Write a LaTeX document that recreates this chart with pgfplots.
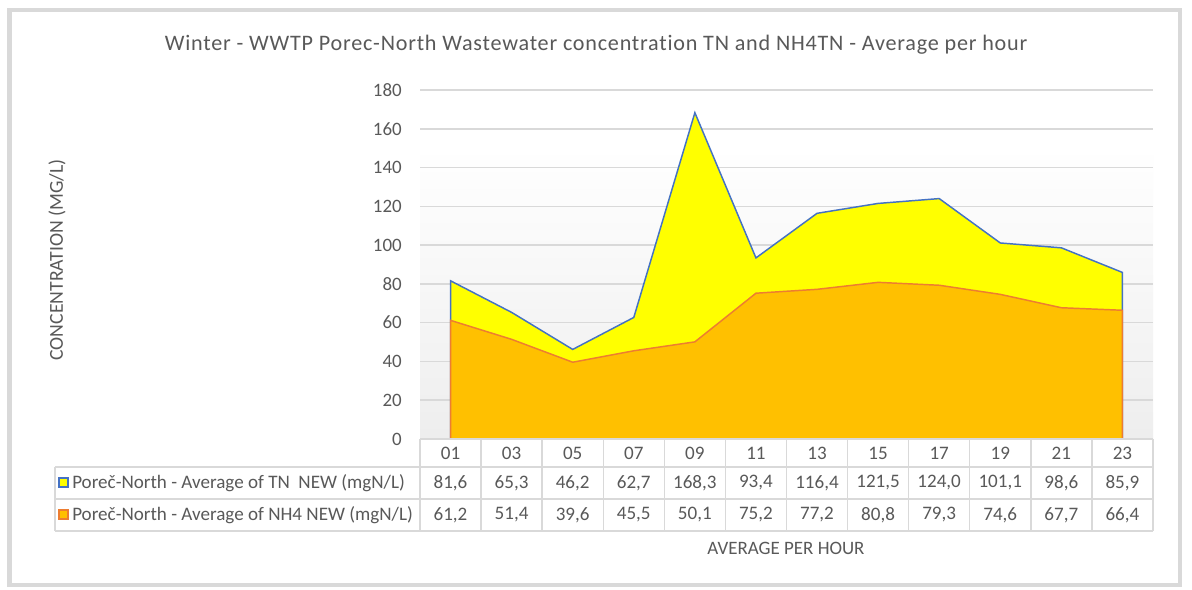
\documentclass[border=0pt]{standalone}
\usepackage{pgfplots}
\pgfplotsset{compat=1.18}
\usepackage{fontspec}
\setmainfont[Ligatures={NoCommon}]{Carlito}
\newfontfamily\titlefont[LetterSpace=3.5, Ligatures={NoCommon,NoRare,NoContextual}]{Carlito}
\definecolor{txt}{HTML}{595959}
\definecolor{gridc}{HTML}{D9D9D9}
\definecolor{tnfill}{HTML}{FFFF00}
\definecolor{tnline}{HTML}{4472C4}
\definecolor{nhfill}{HTML}{FFC000}
\definecolor{nhline}{HTML}{ED7D31}
\pgfdeclareverticalshading{plotbg}{100bp}{color(0bp)=(gridc!45); color(25bp)=(gridc!45); color(67bp)=(white); color(100bp)=(white)}
\pgfplotstableread{
i TN NH4
0 81.6 61.2
1 65.3 51.4
2 46.2 39.6
3 62.7 45.5
4 168.3 50.1
5 93.4 75.2
6 116.4 77.2
7 121.5 80.8
8 124.0 79.3
9 101.1 74.6
10 98.6 67.7
11 85.9 66.4
}\datatable
\begin{document}
\begin{tikzpicture}[x=0.75pt,y=-0.75pt]
\path[use as bounding box, fill=white] (0,0) rectangle (1192,589);
\draw[gridc, line width=3.4pt] (9.5,10) rectangle (1180,585);
\begin{axis}[at={(315pt,-329.25pt)}, anchor=south west, scale only axis,
  width=549.75pt, height=261.75pt,
  xmin=-0.5, xmax=11.5, ymin=0, ymax=180, ytick={0,20,...,180}, xtick=\empty,
  ymajorgrids, grid style={gridc, line width=1.1pt},
  axis line style={draw=none}, major tick length=0pt,
  yticklabel style={font=\fontsize{14.2}{16}\selectfont, text=txt, anchor=east, inner sep=0pt, xshift=-13.5pt},
  /pgf/number format/assume math mode=true,
  axis background/.style={shading=plotbg},
  clip=false]
\addplot[fill=tnfill, draw=tnline, line width=1.1pt, sharp plot] table[x=i, y=TN] {\datatable} \closedcycle;
\addplot[fill=nhfill, draw=nhline, line width=1.1pt, sharp plot] table[x=i, y=NH4] {\datatable} \closedcycle;
\end{axis}
% title and labels
\node[text=txt, font=\titlefont\fontsize{16.6}{18}\selectfont] at (596,45) {Winter - WWTP Porec-North Wastewater concentration TN and NH4TN - Average per hour};
\node[text=txt, font=\fontsize{14.8}{16}\selectfont, rotate=90] at (57,260) {CONCENTRATION (MG/L)};
\node[text=txt, font=\fontsize{14.2}{16}\selectfont] at (786,548) {AVERAGE PER HOUR};
% data table grid
\draw[gridc, line width=1.1pt] (420,439) -- (1153,439);
\draw[gridc, line width=1.1pt] (55,467) -- (1153,467);
\draw[gridc, line width=1.1pt] (55,499) -- (1153,499);
\draw[gridc, line width=1.1pt] (55,531) -- (1153,531);
\draw[gridc, line width=1.1pt] (55,467) -- (55,531);
\foreach \k in {0,...,12} {\draw[gridc, line width=1.1pt] ({420+61.083*\k},439) -- ({420+61.083*\k},531);}
\foreach \h [count=\i from 0] in {01,03,05,07,09,11,13,15,17,19,21,23}
  {\node[text=txt, font=\fontsize{14.3}{16}\selectfont] at ({450.5+61.083*\i},453) {\h};}
\foreach \v [count=\i from 0] in {81{,}6,65{,}3,46{,}2,62{,}7,168{,}3,93{,}4,116{,}4,121{,}5,124{,}0,101{,}1,98{,}6,85{,}9}
  {\node[text=txt, font=\fontsize{14.3}{16}\selectfont] at ({450.5+61.083*\i},483) {\v};}
\foreach \v [count=\i from 0] in {61{,}2,51{,}4,39{,}6,45{,}5,50{,}1,75{,}2,77{,}2,80{,}8,79{,}3,74{,}6,67{,}7,66{,}4}
  {\node[text=txt, font=\fontsize{14.3}{16}\selectfont] at ({450.5+61.083*\i},515) {\v};}
\draw[tnline, fill=tnfill, line width=1.1pt] (59,478) rectangle (68,487);
\draw[nhline, fill=nhfill, line width=1.1pt] (59,510) rectangle (68,519);
\node[text=txt, font=\fontsize{14.3}{16}\selectfont, anchor=west, inner sep=0pt] at (72,483) {Poreč-North - Average of TN\ \ NEW (mgN/L)};
\node[text=txt, font=\fontsize{14.3}{16}\selectfont, anchor=west, inner sep=0pt] at (72,515) {Poreč-North - Average of NH4 NEW (mgN/L)};
\end{tikzpicture}
\end{document}
